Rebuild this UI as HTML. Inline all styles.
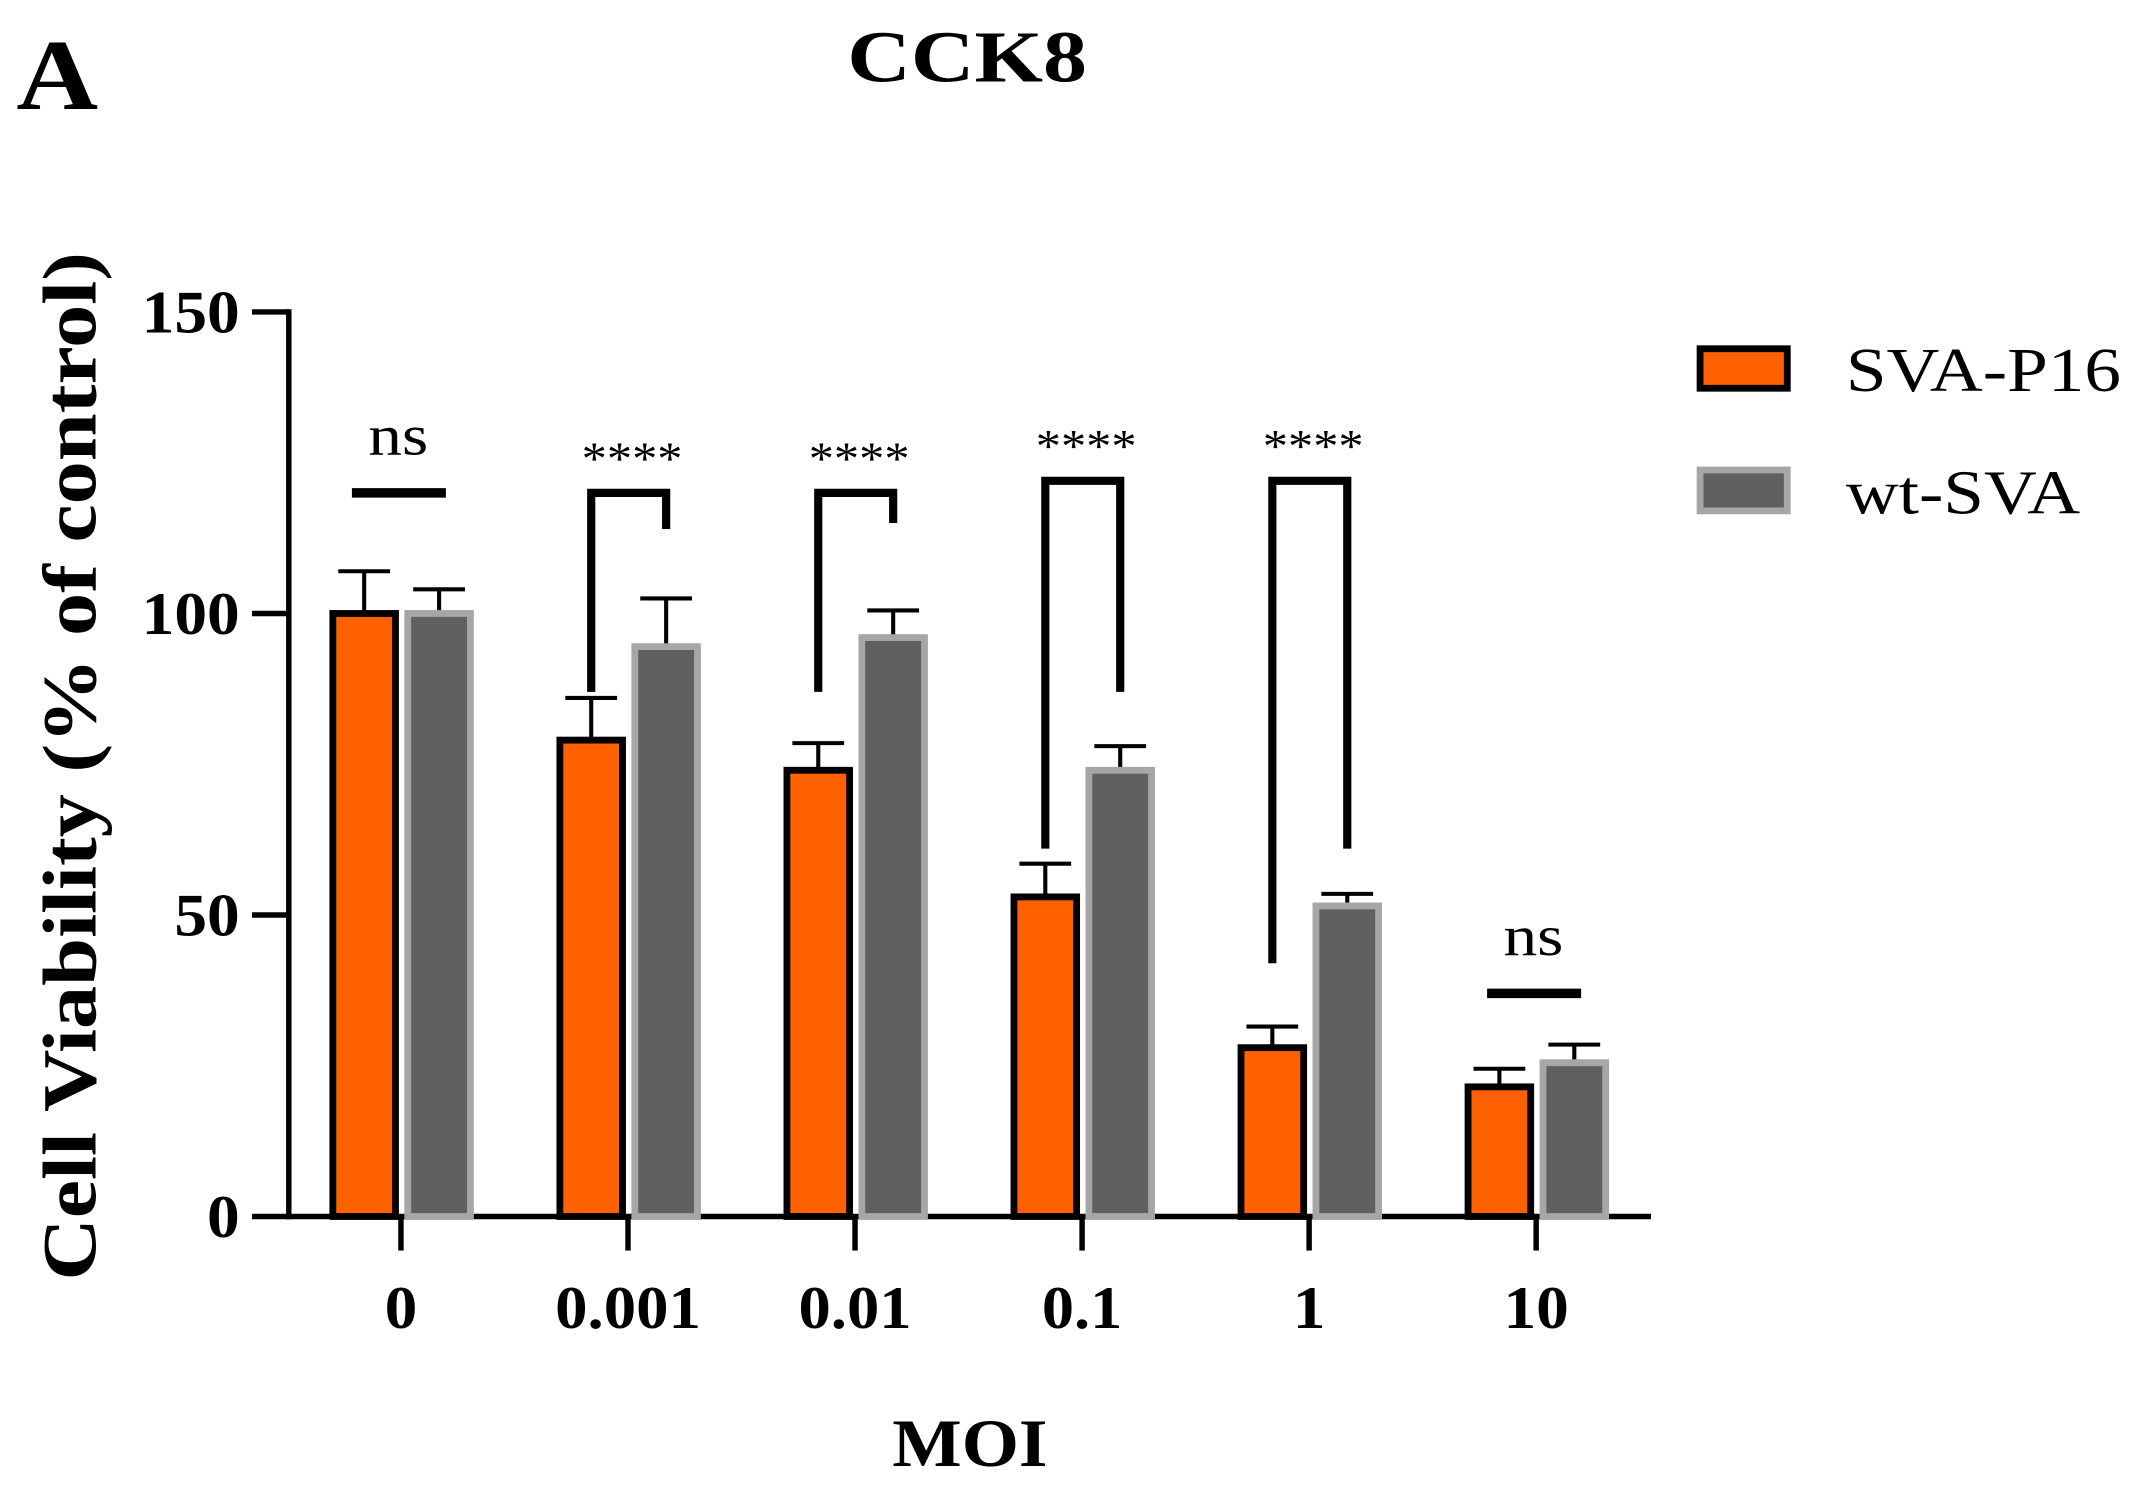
<!DOCTYPE html>
<html><head><meta charset="utf-8"><style>
html,body{margin:0;padding:0;background:#fff;}
svg{display:block;}
text{font-family:"Liberation Serif",serif;font-weight:bold;fill:#000;}
</style></head><body>
<svg id="chart" width="2136" height="1488" viewBox="0 0 1568 1092.3" preserveAspectRatio="none" xmlns="http://www.w3.org/2000/svg">
<text x="12" y="80" font-size="74" textLength="60" lengthAdjust="spacingAndGlyphs">A</text>
<text x="622" y="60" font-size="54" textLength="176" lengthAdjust="spacingAndGlyphs">CCK8</text>
<text transform="translate(70,940) rotate(-90)" font-size="56" textLength="755" lengthAdjust="spacingAndGlyphs">Cell Viability (% of control)</text>
<text x="655" y="1076" font-size="50" textLength="114" lengthAdjust="spacingAndGlyphs">MOI</text>
<g id="plot"></g>
<g>
<rect x="1248" y="256" width="64" height="29" fill="#ff6000" stroke="#000" stroke-width="5"/>
<text x="1355" y="287" font-size="46" style="font-weight:normal" textLength="202" lengthAdjust="spacingAndGlyphs">SVA-P16</text>
<rect x="1248" y="345" width="64" height="30" fill="#606060" stroke="#a6a6a6" stroke-width="5"/>
<text x="1355" y="377" font-size="46" style="font-weight:normal" textLength="172" lengthAdjust="spacingAndGlyphs">wt-SVA</text>
</g>
</svg>
<script>
const categories = ["0","0.001","0.01","0.1","1","10"];
const svaP16 = [100, 79, 74, 53, 28, 21.5];
const svaP16Err = [7, 7, 4.5, 5.5, 3.5, 3];
const wtSva = [100, 94.5, 96, 74, 51.5, 25.5];
const wtSvaErr = [4, 8, 4.5, 4, 2, 3];
const yTicks = [0, 50, 100, 150];
const sigLabels = ["ns","****","****","****","****","ns"];
const sigLeftBottom = [null, 87, 87, 61, 42, null];
const sigRightBottom = [null, 114, 115, 87, 61, null];
const sigTop = [120, 120, 120, 122, 122, 37];

const NS="http://www.w3.org/2000/svg";
const g=document.getElementById('plot');
const x0=212,x1=1212,yBase=893,yTop=229,yMax=150;
const y=v=>yBase-(v/yMax)*(yBase-yTop);
const band=(x1-x0)/categories.length;
const cx=i=>x0+band*(i+0.5)-1;
function mk(tag,attrs){const e=document.createElementNS(NS,tag);for(const k in attrs)e.setAttribute(k,attrs[k]);g.appendChild(e);return e;}
let e=mk('line',{x1:x0,y1:yTop-2,x2:x0,y2:yBase+2,stroke:'#000','stroke-width':4});


e=mk('line',{x1:x0-2,y1:yBase,x2:x1,y2:yBase,stroke:'#000','stroke-width':4});


yTicks.forEach(t=>{
 let l=mk('line',{x1:185,y1:y(t),x2:x0,y2:y(t),stroke:'#000','stroke-width':4});
 
 
 const s=String(t);
 let tx=mk('text',{x:176,y:y(t)+15,'font-size':44,'text-anchor':'end',textLength:s.length*24,lengthAdjust:'spacingAndGlyphs'});tx.textContent=s;
 
 
});
const bw=46;
categories.forEach((c,i)=>{
 const c0=cx(i);
 let t=mk('line',{x1:c0,y1:yBase,x2:c0,y2:918,stroke:'#000','stroke-width':4});
 
 
 const w=c.replace('.','').length*24+(c.includes('.')?11:0);
 let tx=mk('text',{x:c0-w/2,y:975,'font-size':44,textLength:w,lengthAdjust:'spacingAndGlyphs'});tx.textContent=c;
 
 
 const ox=c0-50, gx=c0+5;
 let eb=mk('path',{d:`M${ox+bw/2},${y(svaP16[i])} V${y(svaP16[i]+svaP16Err[i])} M${ox+bw/2-19},${y(svaP16[i]+svaP16Err[i])} H${ox+bw/2+19}`,stroke:'#000','stroke-width':3,fill:'none'});
 
 
 let b=mk('rect',{x:ox,y:y(svaP16[i]),width:bw,height:yBase-y(svaP16[i]),fill:'#ff6000',stroke:'#000','stroke-width':5});
 
 
 eb=mk('path',{d:`M${gx+bw/2},${y(wtSva[i])} V${y(wtSva[i]+wtSvaErr[i])} M${gx+bw/2-19},${y(wtSva[i]+wtSvaErr[i])} H${gx+bw/2+19}`,stroke:'#000','stroke-width':3,fill:'none'});
 
 
 b=mk('rect',{x:gx,y:y(wtSva[i]),width:bw,height:yBase-y(wtSva[i]),fill:'#606060',stroke:'#a6a6a6','stroke-width':5});
 
 
 const ty=y(sigTop[i]);
 let s;
 if(sigLeftBottom[i]===null){
  s=mk('line',{x1:c0-36,y1:ty,x2:c0+33,y2:ty,stroke:'#000','stroke-width':7});
 } else {
  const lx=ox+bw/2, rx=gx+bw/2;
  s=mk('path',{d:`M${lx},${y(sigLeftBottom[i])} V${ty} H${rx} V${y(sigRightBottom[i])}`,stroke:'#000','stroke-width':6,fill:'none'});
 }
 
 
 const ns=sigLabels[i]==='ns';
 const sw=ns?44:74;
 let st=mk('text',{x:(ns?c0-2:c0+3)-sw/2,y:ns?ty-28:ty-14,'font-size':ns?42:34,textLength:sw,lengthAdjust:'spacingAndGlyphs'});
 st.style.fontWeight='normal';
 st.textContent=sigLabels[i];
 
 
});
</script>
</body></html>
